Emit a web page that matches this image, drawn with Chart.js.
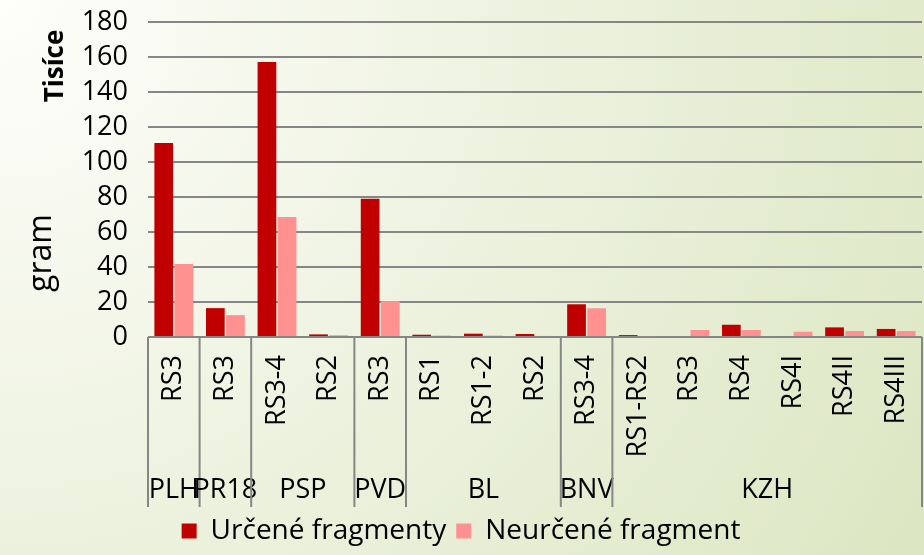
<!DOCTYPE html>
<html>
<head>
<meta charset="utf-8">
<script src="https://cdn.jsdelivr.net/npm/chart.js@4"></script>
<style>
  html, body { margin: 0; padding: 0; background: #fff; }
  #wrap { width: 924px; height: 555px; position: relative; }
</style>
</head>
<body>
<div id="wrap"><canvas id="myChart"></canvas></div>
<script>
// sites and how many layers each one spans on the axis
const groups = ['PLH', 'PR18', 'PSP', 'PVD', 'BL', 'BNV', 'KZH'];
const groupSizes = [1, 1, 2, 1, 3, 1, 6];
const layers = ['RS3', 'RS3', 'RS3-4', 'RS2', 'RS3', 'RS1', 'RS1-2', 'RS2', 'RS3-4',
  'RS1-RS2', 'RS3', 'RS4', 'RS4I', 'RS4II', 'RS4III'];

// grams, in thousands
const urcene = [110.9, 16.5, 157.2, 1.5, 79.0, 1.3, 1.9, 1.7, 18.7, 1.1, 0, 7.0, 0, 5.5, 4.6];
const neurcene = [41.7, 12.5, 68.6, 1.0, 20.5, 0.8, 0.8, 0.6, 16.4, 0.5, 4.0, 4.0, 3.0, 3.4, 3.4];

const yMax = 180;
const yStep = 20;

const FONT = "'Open Sans', sans-serif";
const GRID = '#868686';
const AXIS_H = 170;

const decor = {
  id: 'decor',
  beforeDraw(chart) {
    const { ctx, width, height } = chart;
    const g = ctx.createRadialGradient(0, 0, 0, 0, 0, Math.hypot(width, height));
    g.addColorStop(0, '#fefefb');
    g.addColorStop(1, '#dce6c2');
    ctx.save();
    ctx.fillStyle = g;
    ctx.fillRect(0, 0, width, height);
    ctx.restore();
  },
  afterDraw(chart) {
    const { ctx, chartArea } = chart;
    const x = chart.scales.x;
    const base = chartArea.bottom;
    const low = base + AXIS_H;

    // group separators and group names
    ctx.save();
    ctx.strokeStyle = GRID;
    ctx.lineWidth = 2;
    ctx.fillStyle = '#000';
    ctx.font = '27px ' + FONT;
    ctx.textAlign = 'center';
    ctx.textBaseline = 'middle';
    let start = 0;
    const edge = i => {
      if (i <= 0) return chartArea.left;
      if (i >= layers.length) return chartArea.right;
      return (x.getPixelForValue(i - 1) + x.getPixelForValue(i)) / 2;
    };
    groups.forEach((name, gi) => {
      const end = start + groupSizes[gi];
      const a = edge(start), b = edge(end);
      ctx.beginPath();
      ctx.moveTo(a, base);
      ctx.lineTo(a, low);
      ctx.stroke();
      if (gi === groups.length - 1) {
        ctx.beginPath();
        ctx.moveTo(b, base);
        ctx.lineTo(b, low);
        ctx.stroke();
      }
      const c = (x.getPixelForValue(start) + x.getPixelForValue(end - 1)) / 2;
      ctx.fillText(name, c, base + 153);
      start = end;
    });

    // axis title and display unit
    ctx.save();
    ctx.translate(42, 253);
    ctx.rotate(-Math.PI / 2);
    ctx.font = '32px ' + FONT;
    ctx.fillText('gram', 0, 0);
    ctx.restore();
    ctx.translate(56, 66);
    ctx.rotate(-Math.PI / 2);
    ctx.font = 'bold 26px ' + FONT;
    ctx.fillText('Tisíce', 0, 0);
    ctx.restore();
  }
};

new Chart(document.getElementById('myChart'), {
  type: 'bar',
  data: {
    labels: layers,
    datasets: [
      { label: 'Určené fragmenty', data: urcene, backgroundColor: '#c00000' },
      { label: 'Neurčené fragment', data: neurcene, backgroundColor: '#ff9191' }
    ]
  },
  options: {
    responsive: true,
    maintainAspectRatio: false,
    animation: false,
    datasets: { bar: { categoryPercentage: 0.78, barPercentage: 0.93 } },
    layout: { padding: { top: 22, right: 2, left: 0, bottom: 0 } },
    plugins: {
      legend: {
        position: 'bottom',
        labels: {
          color: '#000',
          font: { family: FONT, size: 28 },
          boxWidth: 15,
          boxHeight: 15,
          padding: 10
        }
      },
      tooltip: { enabled: false }
    },
    scales: {
      x: {
        grid: { display: false, drawTicks: false },
        border: { display: false },
        ticks: {
          color: '#000',
          font: { family: FONT, size: 27 },
          minRotation: 90,
          maxRotation: 90,
          padding: 18,
          autoSkip: false
        },
        afterFit(s) {
          s.height = AXIS_H;
          s.paddingLeft = 0;
          s.paddingRight = 0;
        }
      },
      y: {
        min: 0,
        max: yMax,
        grid: { color: GRID, lineWidth: 2, drawTicks: false },
        border: { display: false },
        ticks: {
          stepSize: yStep,
          autoSkip: false,
          color: '#000',
          font: { family: FONT, size: 27 },
          padding: 20
        },
        afterFit(s) {
          s.width = 148;
          s.paddingTop = 0;
          s.paddingBottom = 0;
        }
      }
    }
  },
  plugins: [decor]
});
</script>
</body>
</html>
